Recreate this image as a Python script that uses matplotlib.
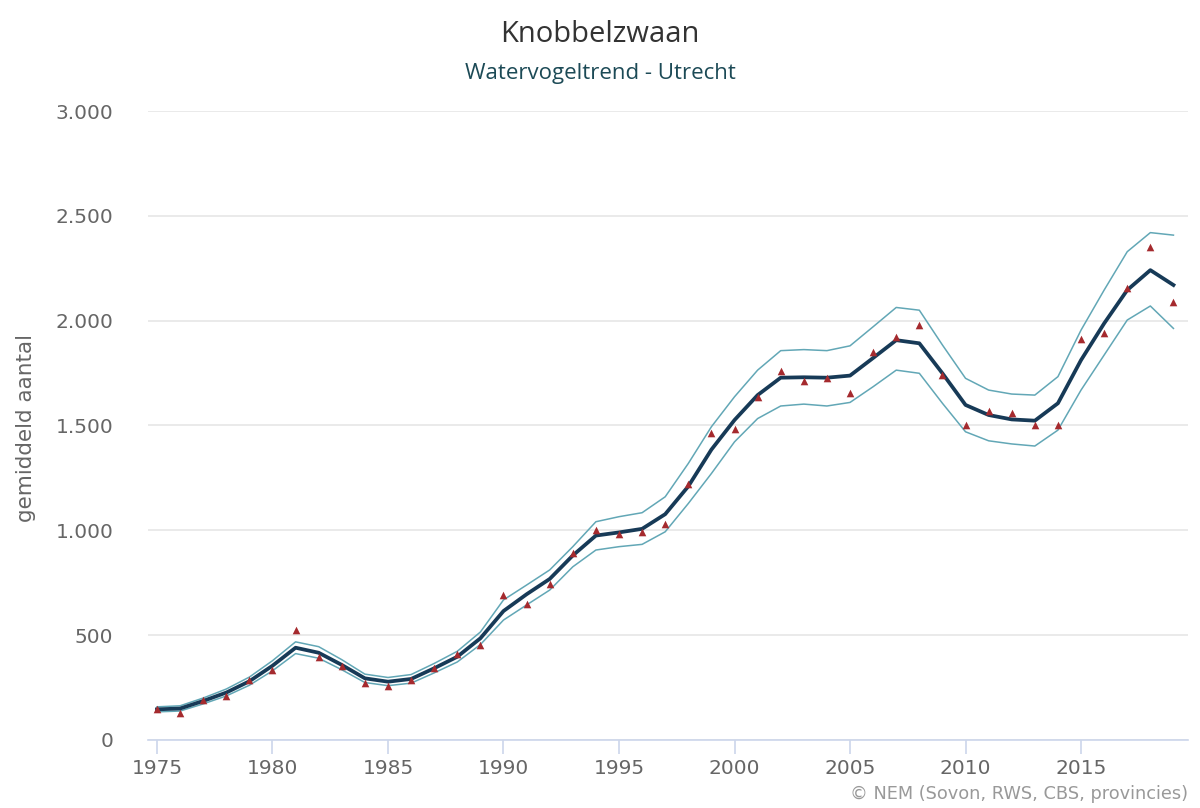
import numpy as np
import matplotlib
matplotlib.use("Agg")
import matplotlib.pyplot as plt
from matplotlib.ticker import FuncFormatter, MultipleLocator

jaren = list(range(1975, 2020))

trend = [146, 150, 186, 226, 280, 354, 440, 416, 358, 294,
         278, 291, 342, 397, 485, 615, 695, 768, 880, 975,
         990, 1007, 1077, 1210, 1385, 1526, 1645, 1728, 1730, 1728,
         1738, 1822, 1907, 1892, 1749, 1598, 1550, 1529, 1523, 1606,
         1812, 1987, 2146, 2241, 2170]

boven = [158, 163, 200, 243, 300, 378, 468, 445, 383, 314,
         298, 312, 365, 423, 515, 668, 739, 811, 922, 1041,
         1065, 1084, 1160, 1319, 1494, 1637, 1764, 1857, 1862, 1857,
         1880, 1971, 2063, 2050, 1884, 1725, 1669, 1650, 1645, 1733,
         1955, 2146, 2329, 2420, 2408]

onder = [134, 138, 172, 210, 261, 330, 412, 390, 335, 274,
         259, 271, 320, 372, 455, 572, 644, 715, 826, 906,
         922, 933, 993, 1128, 1271, 1422, 1533, 1593, 1602, 1593,
         1610, 1685, 1764, 1749, 1606, 1470, 1427, 1412, 1402, 1478,
         1669, 1836, 2003, 2070, 1963]

geteld = [146, 130, 190, 210, 286, 334, 525, 397, 354, 270,
          257, 286, 342, 408, 453, 691, 648, 744, 890, 1001,
          982, 992, 1030, 1219, 1462, 1483, 1637, 1761, 1714, 1725,
          1656, 1852, 1920, 1979, 1741, 1502, 1569, 1561, 1502, 1502,
          1912, 1939, 2154, 2350, 2090]

TITEL = "Knobbelzwaan"
ONDERTITEL = "Watervogeltrend - Utrecht"
BRON = "\u00a9 NEM (Sovon, RWS, CBS, provincies)"


def duizendtal(v, pos):
    return f"{int(v):,}".replace(",", ".")


fig = plt.figure(figsize=(12, 8.08), dpi=100)
ax = fig.add_axes([0.1233, 0.0842, 0.8667, 0.7784])

ax.plot(jaren, boven, color="#62a7b6", linewidth=1.1, zorder=2)
ax.plot(jaren, onder, color="#62a7b6", linewidth=1.1, zorder=2)
ax.plot(jaren, trend, color="#173a57", linewidth=2.7, zorder=3)
ax.scatter(jaren, geteld, marker="^", s=30, color="#a52a2e", zorder=4,
           linewidths=0)

ax.set_xlim(1974.61, 2019.63)
ax.set_ylim(0, 3000)
ax.xaxis.set_major_locator(MultipleLocator(5))
ax.yaxis.set_major_locator(MultipleLocator(500))
ax.yaxis.set_major_formatter(FuncFormatter(duizendtal))

ax.grid(True, axis="y", color="#e6e6e6", linewidth=1.2)
ax.set_axisbelow(True)
for kant in ["top", "right", "left"]:
    ax.spines[kant].set_visible(False)
ax.spines["bottom"].set_color("#ccd6eb")
ax.spines["bottom"].set_linewidth(1.2)

ax.tick_params(axis="x", colors="#ccd6eb", length=10, width=1.2,
               labelcolor="#666666", labelsize=14.5, pad=4)
ax.tick_params(axis="y", length=0, labelcolor="#666666", labelsize=14.5, pad=25)

ax.set_ylabel("gemiddeld aantal", fontsize=15.5, color="#666666")
ax.yaxis.set_label_coords(-0.108, 0.496)

fig.text(0.5, 0.957, TITEL, ha="center", va="center", fontsize=21,
         color="#333333", family="Open Sans")
fig.text(0.5, 0.909, ONDERTITEL, ha="center", va="center", fontsize=16,
         color="#1c4a56", family="Open Sans", fontweight="medium")
fig.text(0.99, 0.017, BRON, ha="right", va="center", fontsize=12.8,
         color="#999999")

plt.savefig("out.png", dpi=100)
